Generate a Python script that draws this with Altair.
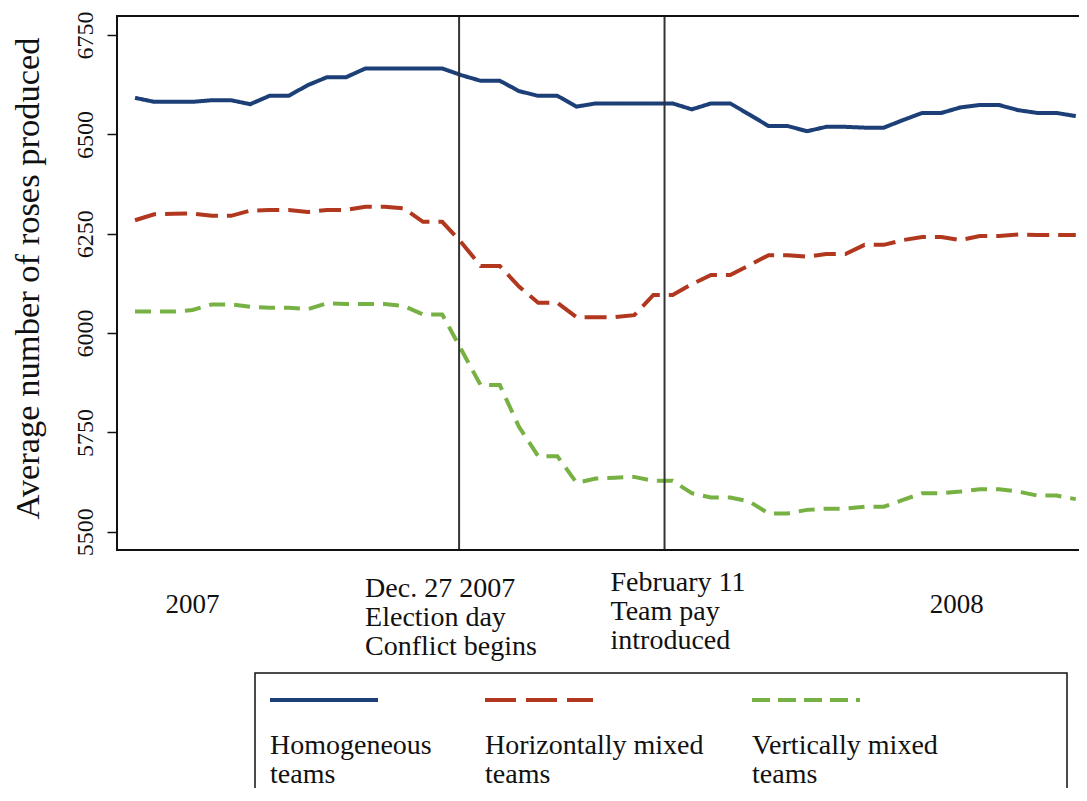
import altair as alt
import pandas as pd

# ---------------- data ----------------
periods = list(range(50))
homogeneous = [6592, 6582, 6582, 6582, 6586, 6586, 6576, 6597, 6597, 6624,
               6644, 6644, 6666, 6666, 6666, 6666, 6666, 6649, 6635, 6635,
               6609, 6597, 6597, 6570, 6578, 6578, 6578, 6578, 6578, 6563,
               6578, 6578, 6550, 6521, 6521, 6508, 6519, 6519, 6517, 6517,
               6536, 6554, 6554, 6568, 6574, 6574, 6561, 6554, 6554, 6546]
horizontal = [6284, 6299, 6300, 6301, 6295, 6295, 6308, 6310, 6310, 6305,
              6310, 6310, 6318, 6318, 6314, 6280, 6280, 6228, 6169, 6169,
              6117, 6076, 6076, 6040, 6040, 6040, 6045, 6096, 6096, 6123,
              6146, 6146, 6171, 6196, 6196, 6192, 6199, 6199, 6222, 6222,
              6234, 6242, 6242, 6234, 6244, 6244, 6248, 6247, 6247, 6247]
vertical = [6054, 6054, 6054, 6058, 6072, 6072, 6066, 6064, 6064, 6060,
            6075, 6073, 6073, 6073, 6068, 6047, 6047, 5958, 5869, 5869,
            5764, 5690, 5690, 5623, 5634, 5636, 5638, 5628, 5628, 5597,
            5586, 5586, 5576, 5546, 5546, 5555, 5558, 5558, 5563, 5563,
            5580, 5597, 5597, 5601, 5607, 5607, 5601, 5591, 5591, 5582]
series_names = ["Homogeneous teams", "Horizontally mixed teams", "Vertically mixed teams"]
legend_labels = ["Homogeneous\nteams", "Horizontally mixed\nteams", "Vertically mixed\nteams"]
event_positions = [16.88, 27.58]
event_labels = ["Dec. 27 2007\nElection day\nConflict begins", "February 11\nTeam pay\nintroduced"]
year_positions = [3.0, 42.8]
year_labels = ["2007", "2008"]
y_ticks = [5500, 5750, 6000, 6250, 6500, 6750]

# ---------------- styling ----------------
FONT = "Liberation Serif"
colors = ["#1d3f78", "#b1371f", "#77b144"]
dashes = [[1, 0], [22, 9], [16, 9]]
legend_dashes = [[1, 0], [31, 10], [18, 8]]
ink = "#111111"
W, H = 962, 534

rows = []
for name, vals in zip(series_names, [homogeneous, horizontal, vertical]):
    for p, v in zip(periods, vals):
        rows.append({"period": p, "value": v, "series": name})
df = pd.DataFrame(rows)

xscale = alt.Scale(domain=[-0.9375, 49.167], nice=False, zero=False)
yscale = alt.Scale(domain=[5454, 6798], nice=False, zero=False)

yaxis = alt.Axis(
    values=y_ticks, format="d", grid=False, domain=False,
    labelAngle=270, labelAlign="center", labelBaseline="alphabetic",
    labelPadding=15, labelFontSize=24, labelFont=FONT, labelColor=ink,
    tickSize=10, tickWidth=1.5, tickColor=ink,
    title="Average number of roses produced", titleFont=FONT,
    titleFontSize=34.5, titleFontWeight="normal", titleColor=ink,
    titleAngle=270, titleAlign="center", titleBaseline="alphabetic",
    titleX=-79, titleY=262,
)

lines = alt.Chart(df).mark_line(strokeWidth=4).encode(
    x=alt.X("period:Q", scale=xscale, axis=None),
    y=alt.Y("value:Q", scale=yscale, axis=yaxis),
    color=alt.Color("series:N", scale=alt.Scale(domain=series_names, range=colors), legend=None),
    strokeDash=alt.StrokeDash("series:N", scale=alt.Scale(domain=series_names, range=dashes), legend=None),
    detail="series:N",
)

events_df = pd.DataFrame({"pos": event_positions, "label": event_labels})
rules = alt.Chart(events_df).mark_rule(color="#333333", strokeWidth=2).encode(
    x=alt.X("pos:Q", scale=xscale, axis=None),
)

# plot frame: left, top and bottom edges (right edge lies off the page)
frame_df = pd.DataFrame({"edge": ["frame"]})
frame_left = alt.Chart(frame_df).mark_rule(color=ink, strokeWidth=2).encode(
    x=alt.value(0), y=alt.value(-1), y2=alt.value(H + 1))
frame_top = alt.Chart(frame_df).mark_rule(color=ink, strokeWidth=2).encode(
    x=alt.value(-1), x2=alt.value(W + 20), y=alt.value(0))
frame_bottom = alt.Chart(frame_df).mark_rule(color=ink, strokeWidth=2).encode(
    x=alt.value(-1), x2=alt.value(W + 20), y=alt.value(H))

layers = [lines, rules, frame_left, frame_top, frame_bottom]

# event annotations below the plot
event_dx = [-94, -54]
event_y = [581, 575]
for i in range(len(event_positions)):
    layers.append(
        alt.Chart(events_df.iloc[[i]]).mark_text(
            align="left", baseline="alphabetic", lineBreak="\n", lineHeight=29,
            font=FONT, fontSize=28, color=ink, dx=event_dx[i],
        ).encode(
            x=alt.X("pos:Q", scale=xscale, axis=None),
            y=alt.value(event_y[i]),
            text="label:N",
        )
    )

years_df = pd.DataFrame({"pos": year_positions, "label": year_labels})
layers.append(
    alt.Chart(years_df).mark_text(
        align="center", baseline="alphabetic", font=FONT, fontSize=27, color=ink,
    ).encode(
        x=alt.X("pos:Q", scale=xscale, axis=None),
        y=alt.value(597),
        text="label:N",
    )
)

# custom legend box below the plot
legend_df = pd.DataFrame({"series": series_names, "label": legend_labels})
layers.append(
    alt.Chart(legend_df.iloc[[0]]).mark_rect(
        fillOpacity=0, stroke=ink, strokeWidth=1.5,
    ).encode(
        x=alt.value(138), x2=alt.value(950), y=alt.value(657), y2=alt.value(820),
    )
)
legend_x = [153, 368, 635]
for i in range(len(series_names)):
    layers.append(
        alt.Chart(legend_df.iloc[[i]]).mark_rule(
            strokeWidth=4, color=colors[i], strokeDash=legend_dashes[i],
        ).encode(
            x=alt.value(legend_x[i]), x2=alt.value(legend_x[i] + 108), y=alt.value(684),
        )
    )
    layers.append(
        alt.Chart(legend_df.iloc[[i]]).mark_text(
            align="left", baseline="alphabetic", lineBreak="\n", lineHeight=29,
            font=FONT, fontSize=28, color=ink,
        ).encode(
            x=alt.value(legend_x[i]), y=alt.value(738), text="label:N",
        )
    )

chart = alt.layer(*layers).properties(
    width=W, height=H,
    autosize=alt.AutoSizeParams(type="none"),
    padding={"left": 109, "top": 8, "right": 0, "bottom": 238},
    background="white",
).configure_view(strokeOpacity=0)

chart.save("out.html", embed_options={"renderer": "svg", "actions": False})
